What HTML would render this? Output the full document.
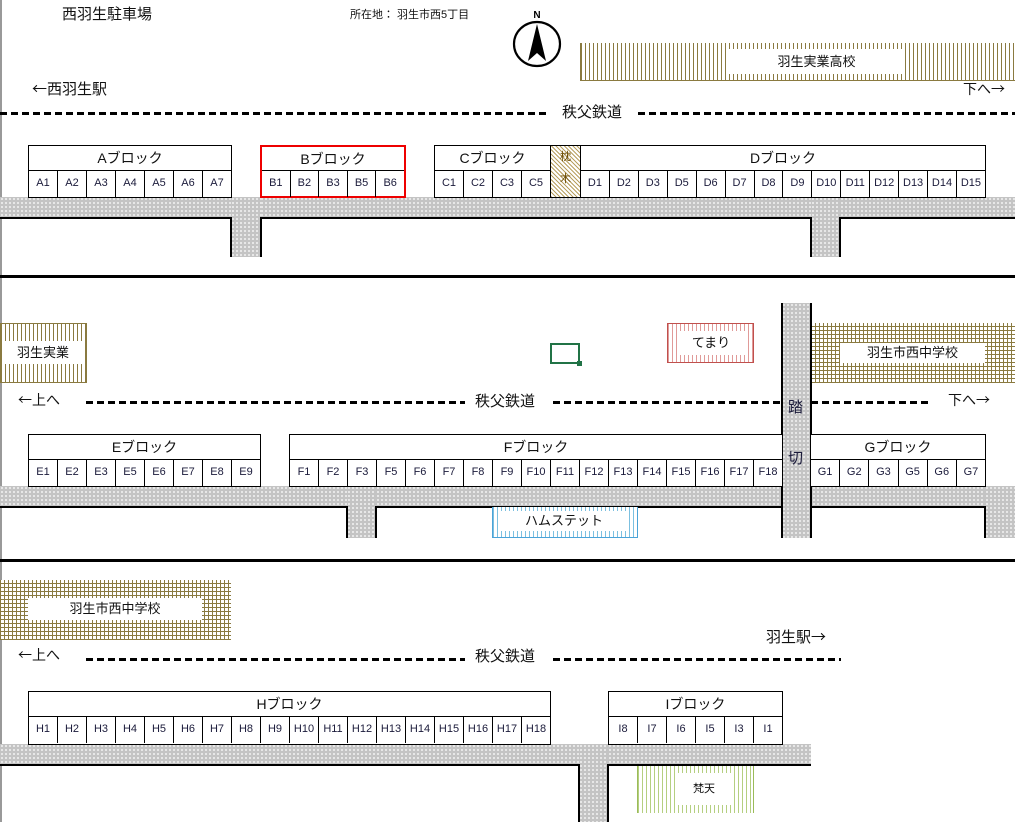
<!DOCTYPE html>
<html><head><meta charset="utf-8">
<style>
*{margin:0;padding:0;box-sizing:border-box}
body{width:1023px;height:822px;position:relative;background:#fff;font-family:"Liberation Sans","Noto Sans CJK JP",sans-serif;color:#111;overflow:hidden}
.a{position:absolute}
.ar{font-family:"Noto Sans CJK JP",sans-serif}
.road{position:absolute;background-color:#c4c4c4;background-image:radial-gradient(circle,#fff 0.7px,transparent 1px);background-size:4px 4px}
.blk{position:absolute;border:1.5px solid #000;background:#fff}
.hd{height:25px;border-bottom:1px solid #000;text-align:center;font-size:14px;line-height:24px}
.row{display:flex;height:26px}
.row span{flex:1;border-left:1px solid #000;text-align:center;font-size:11px;line-height:25px;color:#1a1a3a}
.row span:first-child{border-left:none}
.dash{position:absolute;height:2.5px;background:repeating-linear-gradient(90deg,#000 0 7px,transparent 7px 11px)}
.t{position:absolute;white-space:nowrap}
.vs{background:repeating-linear-gradient(90deg,#8a7a40 0 1px,#fff 1px 4px)}
.grid{background:repeating-linear-gradient(90deg,#8a7a40 0 1px,transparent 1px 4px),repeating-linear-gradient(0deg,#8a7a40 0 1px,#fff 1px 4px)}
.lbl{position:absolute;background:#fff;text-align:center;font-size:13px}
.hl{position:absolute;height:2px;background:#000}
.vl{position:absolute;width:1.5px;background:#000}
</style></head><body>
<div class="a" style="left:0;top:0;width:2px;height:822px;background:#999"></div>

<div class="t" style="left:62px;top:3px;font-size:15px">西羽生駐車場</div>
<div class="t" style="left:350px;top:6px;font-size:11px">所在地： 羽生市西5丁目</div>
<svg class="a" style="left:505px;top:5px" width="64" height="66">
<text x="32" y="13" font-size="10" font-weight="bold" text-anchor="middle" font-family="Liberation Sans">N</text>
<ellipse cx="32" cy="39" rx="23" ry="22" fill="none" stroke="#000" stroke-width="2.2"/>
<polygon points="32,19 23,56 32,48 41,56" fill="#000"/>
</svg>
<div class="a vs" style="left:580px;top:43px;width:435px;height:38px;border-left:1px solid #8a7a40;border-bottom:1px solid #8a7a40"></div>
<div class="lbl" style="left:728px;top:49px;width:177px;height:25px;line-height:25px">羽生実業高校</div>
<div class="t ar" style="left:32px;top:78px;font-size:15px">←西羽生駅</div>
<div class="t ar" style="left:963px;top:79px;font-size:14px">下へ→</div>
<div class="dash" style="left:0;top:112px;width:550px"></div>
<div class="t" style="left:562px;top:101px;font-size:15px">秩父鉄道</div>
<div class="dash" style="left:638px;top:112px;width:377px"></div>

<!-- road 1 -->
<div class="road" style="left:0;top:197px;width:1015px;height:21px"></div>
<div class="road" style="left:231px;top:197px;width:30px;height:60px"></div>
<div class="road" style="left:811px;top:197px;width:29px;height:60px"></div>
<div class="hl" style="left:0;top:217px;width:232px"></div>
<div class="hl" style="left:260px;top:217px;width:552px"></div>
<div class="hl" style="left:839px;top:217px;width:176px"></div>
<div class="vl" style="left:230px;top:217px;height:40px"></div>
<div class="vl" style="left:260px;top:217px;height:40px"></div>
<div class="vl" style="left:810px;top:217px;height:40px"></div>
<div class="vl" style="left:839px;top:217px;height:40px"></div>

<div class="blk" style="left:28px;top:145px;width:204px;height:53px"><div class="hd">Aブロック</div><div class="row"><span>A1</span><span>A2</span><span>A3</span><span>A4</span><span>A5</span><span>A6</span><span>A7</span></div></div>
<div class="blk" style="left:260px;top:145px;width:146px;height:53px;border:2.5px solid #e00"><div class="hd" style="height:24px">Bブロック</div><div class="row"><span>B1</span><span>B2</span><span>B3</span><span>B5</span><span>B6</span></div></div>
<div class="blk" style="left:434px;top:145px;width:117px;height:53px"><div class="hd">Cブロック</div><div class="row"><span>C1</span><span>C2</span><span>C3</span><span>C5</span></div></div>
<div class="a" style="left:550px;top:145px;width:31px;height:53px;border:1.5px solid #000;background:repeating-linear-gradient(45deg,#b8a060 0 1px,#fff 1px 3px);font-size:11px;text-align:center;line-height:22px;color:#6a4a00">枕<br>木</div>
<div class="blk" style="left:580px;top:145px;width:406px;height:53px"><div class="hd">Dブロック</div><div class="row"><span>D1</span><span>D2</span><span>D3</span><span>D5</span><span>D6</span><span>D7</span><span>D8</span><span>D9</span><span>D10</span><span>D11</span><span>D12</span><span>D13</span><span>D14</span><span>D15</span></div></div>

<div class="a" style="left:0;top:275px;width:1015px;height:3px;background:#000"></div>

<!-- section 2 -->
<div class="a vs" style="left:0;top:323px;width:87px;height:60px;border:1px solid #8a7a40"></div>
<div class="lbl" style="left:2px;top:341px;width:82px;height:23px;line-height:23px">羽生実業</div>
<div class="a" style="left:550px;top:343px;width:30px;height:21px;border:2px solid #217346"></div>
<div class="a" style="left:577px;top:361px;width:5px;height:5px;background:#217346"></div>
<div class="a" style="left:667px;top:323px;width:87px;height:40px;border:1px solid #c0504d;background:repeating-linear-gradient(90deg,#e09a98 0 1px,#fff 1px 4px)"></div>
<div class="lbl" style="left:677px;top:331px;width:68px;height:24px;line-height:24px">てまり</div>
<div class="a grid" style="left:811px;top:323px;width:204px;height:60px"></div>
<div class="lbl" style="left:840px;top:343px;width:145px;height:20px;line-height:20px">羽生市西中学校</div>

<div class="t ar" style="left:18px;top:390px;font-size:14px">←上へ</div>
<div class="dash" style="left:86px;top:401px;width:379px"></div>
<div class="t" style="left:475px;top:390px;font-size:15px">秩父鉄道</div>
<div class="dash" style="left:553px;top:401px;width:229px"></div>
<div class="dash" style="left:811px;top:401px;width:117px"></div>
<div class="t ar" style="left:948px;top:390px;font-size:14px">下へ→</div>

<div class="road" style="left:0;top:486px;width:1015px;height:21px"></div>
<div class="road" style="left:782px;top:303px;width:29px;height:235px"></div>
<div class="road" style="left:347px;top:486px;width:29px;height:52px"></div>
<div class="road" style="left:985px;top:486px;width:30px;height:52px"></div>
<div class="hl" style="left:0;top:506px;width:348px"></div>
<div class="hl" style="left:375px;top:506px;width:408px"></div>
<div class="hl" style="left:810px;top:506px;width:176px"></div>
<div class="vl" style="left:346px;top:506px;height:32px"></div>
<div class="vl" style="left:375px;top:506px;height:32px"></div>
<div class="vl" style="left:781px;top:303px;height:235px"></div>
<div class="vl" style="left:810px;top:303px;height:235px"></div>
<div class="vl" style="left:984px;top:506px;height:32px"></div>
<div class="t" style="left:788px;top:396px;font-size:15px;color:#1a1a3a">踏</div>
<div class="t" style="left:788px;top:447px;font-size:15px;color:#1a1a3a">切</div>

<div class="blk" style="left:28px;top:434px;width:233px;height:53px"><div class="hd">Eブロック</div><div class="row"><span>E1</span><span>E2</span><span>E3</span><span>E5</span><span>E6</span><span>E7</span><span>E8</span><span>E9</span></div></div>
<div class="blk" style="left:289px;top:434px;width:494px;height:53px"><div class="hd">Fブロック</div><div class="row"><span>F1</span><span>F2</span><span>F3</span><span>F5</span><span>F6</span><span>F7</span><span>F8</span><span>F9</span><span>F10</span><span>F11</span><span>F12</span><span>F13</span><span>F14</span><span>F15</span><span>F16</span><span>F17</span><span>F18</span></div></div>
<div class="blk" style="left:810px;top:434px;width:176px;height:53px"><div class="hd">Gブロック</div><div class="row"><span>G1</span><span>G2</span><span>G3</span><span>G5</span><span>G6</span><span>G7</span></div></div>

<div class="a" style="left:492px;top:507px;width:146px;height:31px;border:1px solid #4aa3d8;border-top:none;background:repeating-linear-gradient(90deg,#7cc0e0 0 1px,#fff 1px 4px)"></div>
<div class="lbl" style="left:500px;top:511px;width:128px;height:20px;line-height:20px">ハムステット</div>

<div class="a" style="left:0;top:559px;width:1015px;height:3px;background:#000"></div>

<!-- section 3 -->
<div class="a grid" style="left:0;top:580px;width:231px;height:60px"></div>
<div class="lbl" style="left:28px;top:598px;width:174px;height:22px;line-height:22px">羽生市西中学校</div>
<div class="t ar" style="left:766px;top:626px;font-size:15px">羽生駅→</div>
<div class="t ar" style="left:18px;top:645px;font-size:14px">←上へ</div>
<div class="dash" style="left:86px;top:658px;width:379px"></div>
<div class="t" style="left:475px;top:645px;font-size:15px">秩父鉄道</div>
<div class="dash" style="left:553px;top:658px;width:288px"></div>

<div class="road" style="left:0;top:744px;width:811px;height:21px"></div>
<div class="road" style="left:579px;top:744px;width:29px;height:78px"></div>
<div class="hl" style="left:0;top:764px;width:580px"></div>
<div class="hl" style="left:607px;top:764px;width:204px"></div>
<div class="vl" style="left:578px;top:764px;height:58px"></div>
<div class="vl" style="left:607px;top:764px;height:58px"></div>

<div class="blk" style="left:28px;top:691px;width:523px;height:54px"><div class="hd">Hブロック</div><div class="row"><span>H1</span><span>H2</span><span>H3</span><span>H4</span><span>H5</span><span>H6</span><span>H7</span><span>H8</span><span>H9</span><span>H10</span><span>H11</span><span>H12</span><span>H13</span><span>H14</span><span>H15</span><span>H16</span><span>H17</span><span>H18</span></div></div>
<div class="blk" style="left:608px;top:691px;width:175px;height:54px"><div class="hd">Iブロック</div><div class="row"><span>I8</span><span>I7</span><span>I6</span><span>I5</span><span>I3</span><span>I1</span></div></div>

<div class="a" style="left:637px;top:766px;width:117px;height:47px;border-left:1px solid #9bbb59;border-right:1px solid #9bbb59;background:repeating-linear-gradient(90deg,#b5cf80 0 1px,#fff 1px 4px)"></div>
<div class="lbl" style="left:676px;top:773px;width:56px;height:32px;line-height:32px;font-size:11px">梵天</div>
</body></html>
